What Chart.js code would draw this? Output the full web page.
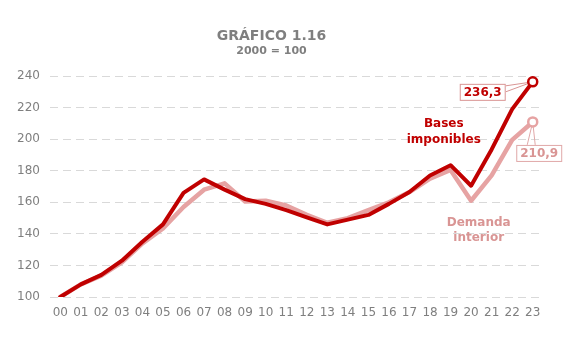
<!DOCTYPE html>
<html>
<head>
<meta charset="utf-8">
<script src="https://cdn.jsdelivr.net/npm/chart.js@4"></script>
<style>
html,body{margin:0;padding:0;background:#fff;}
#wrap{width:582px;height:353px;}
</style>
</head>
<body>
<div id="wrap"><canvas id="c" width="582" height="353"></canvas></div>
<script>
const years = ['00','01','02','03','04','05','06','07','08','09','10','11','12','13','14','15','16','17','18','19','20','21','22','23'];
const bases = [100,108,114,123,135,146,166,174.5,168,162,159,155,150.5,146,149,152,159,166.5,177,183.5,170.5,193.5,219,236.3];
const demanda = [100,108,113.5,122,134,143.5,157,168,172,160.5,161,158,152,147,150,155,160,166.5,175,180.5,161,177,199.5,210.9];
const yTicks = [100,120,140,160,180,200,220,240];
const seriesNames = ['Bases imponibles','Demanda interior'];
const lastLabels = ['236,3','210,9'];

const DARK = '#C00000';
const LIGHT = '#E6A3A3';
const LIGHT_TXT = '#D99594';
const GRAY = '#7F7F7F';
const FONT = '"DejaVu Sans", Verdana, sans-serif';

const last = years.length - 1;

const annot = {
  id: 'annot',
  afterDatasetsDraw(chart) {
    const ctx = chart.ctx;
    const xs = chart.scales.x, ys = chart.scales.y;
    ctx.save();
    ctx.textAlign = 'center';
    ctx.textBaseline = 'middle';
    ctx.font = 'bold 12px ' + FONT;
    ctx.fillStyle = DARK;
    ctx.fillText('Bases', xs.getPixelForValue(18.67), ys.getPixelForValue(209.5));
    ctx.fillText('imponibles', xs.getPixelForValue(18.67), ys.getPixelForValue(199.3));
    ctx.fillStyle = LIGHT_TXT;
    ctx.fillText('Demanda', xs.getPixelForValue(20.37), ys.getPixelForValue(146.7));
    ctx.fillText('interior', xs.getPixelForValue(20.37), ys.getPixelForValue(137.3));

    function callout(val, txt, dx, dy, color, border, side) {
      const px = xs.getPixelForValue(last), py = ys.getPixelForValue(val);
      const cx = px + dx, cy = py + dy;
      ctx.font = 'bold 12px ' + FONT;
      const w = ctx.measureText(txt).width + 8, h = 17;
      const l = cx - w/2, t = cy - h/2;
      ctx.strokeStyle = border;
      ctx.lineWidth = 1;
      ctx.beginPath();
      if (side === 'right') {
        ctx.moveTo(l + w, t + 2); ctx.lineTo(px, py);
        ctx.moveTo(l + w, t + 8); ctx.lineTo(px, py);
      } else {
        ctx.moveTo(cx - 12, t); ctx.lineTo(px, py);
        ctx.moveTo(cx - 4, t); ctx.lineTo(px, py);
      }
      ctx.stroke();
      ctx.fillStyle = '#fff';
      ctx.fillRect(l, t, w, h);
      ctx.strokeRect(l + 0.5, t + 0.5, w - 1, h - 1);
      ctx.fillStyle = color;
      ctx.fillText(txt, cx, cy + 0.5);
    }
    callout(bases[last], lastLabels[0], -50, 10.5, DARK, '#D99594', 'right');
    callout(demanda[last], lastLabels[1], 6.5, 31.5, LIGHT_TXT, '#E0A8A8', 'top');
    [[bases[last], DARK], [demanda[last], LIGHT]].forEach(([v, c]) => {
      ctx.beginPath();
      ctx.arc(xs.getPixelForValue(last), ys.getPixelForValue(v), 4.5, 0, Math.PI*2);
      ctx.fillStyle = '#fff'; ctx.fill();
      ctx.lineWidth = 2.5; ctx.strokeStyle = c; ctx.stroke();
    });
    ctx.restore();
  }
};

new Chart(document.getElementById('c'), {
  type: 'line',
  data: {
    labels: years,
    datasets: [
      { label: seriesNames[1], data: demanda, borderColor: LIGHT, borderWidth: 4.5, pointRadius: 0, tension: 0, order: 2, borderJoinStyle: 'round', borderCapStyle: 'round' },
      { label: seriesNames[0], data: bases, borderColor: DARK, borderWidth: 4, pointRadius: 0, tension: 0, order: 1, borderJoinStyle: 'round', borderCapStyle: 'round' }
    ]
  },
  options: {
    responsive: false,
    animation: false,
    devicePixelRatio: 1,
    layout: { padding: { top: 20, right: 39, left: 0, bottom: 0 } },
    plugins: {
      legend: { display: false },
      tooltip: { enabled: false },
      title: { display: true, text: 'GRÁFICO 1.16', color: GRAY, font: { family: FONT, size: 14, weight: 'bold', lineHeight: 1.2 }, padding: { top: 8, bottom: 0 } },
      subtitle: { display: true, text: '2000 = 100', color: GRAY, font: { family: FONT, size: 11, weight: 'bold', lineHeight: 1.2 }, padding: { top: 0, bottom: 18 } }
    },
    scales: {
      x: {
        offset: true,
        grid: { display: false, drawTicks: false },
        border: { display: false },
        ticks: { color: GRAY, font: { family: FONT, size: 12 }, padding: 9, maxRotation: 0, autoSkip: false },
        afterFit(s) { s.height = 56; }
      },
      y: {
        min: 100, max: 240,
        afterBuildTicks(s) { s.ticks = yTicks.map(v => ({ value: v })); },
        grid: { color: '#D9D9D9', lineWidth: 1, drawTicks: false },
        border: { display: false, dash: [8, 5] },
        ticks: { color: GRAY, font: { family: FONT, size: 12 }, padding: 10 },
        afterFit(s) { s.width = 50; }
      }
    }
  },
  plugins: [annot]
});
</script>
</body>
</html>
